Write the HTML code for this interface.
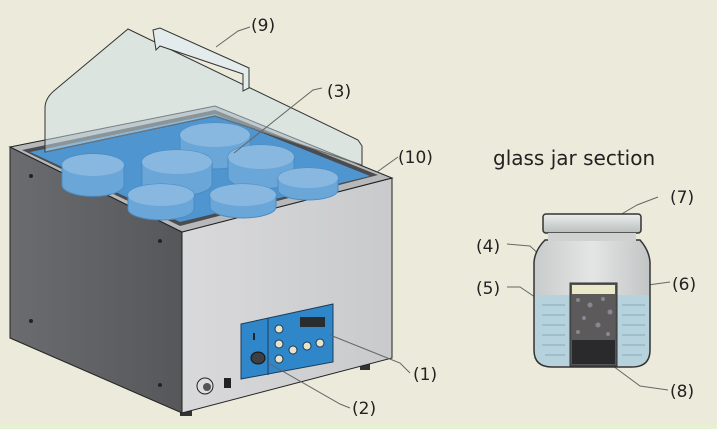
<!DOCTYPE html>
<html><head><meta charset="utf-8"><style>
html,body{margin:0;padding:0;background:#ecebdb;}
svg{display:block}
text{font-family:"DejaVu Sans","Liberation Sans",sans-serif;fill:#222}
</style></head><body>
<svg width="717" height="429" viewBox="0 0 717 429" xmlns="http://www.w3.org/2000/svg">
<defs>
<linearGradient id="rf" x1="0" y1="0" x2="1" y2="0"><stop offset="0" stop-color="#d9d9db"/><stop offset="1" stop-color="#c9cacc"/></linearGradient>
<linearGradient id="lf" x1="0" y1="0" x2="1" y2="0"><stop offset="0" stop-color="#6a6c6f"/><stop offset="1" stop-color="#55575a"/></linearGradient>
<linearGradient id="cap" x1="0" y1="0" x2="0" y2="1"><stop offset="0" stop-color="#eceeed"/><stop offset="1" stop-color="#b9bdbd"/></linearGradient>
<linearGradient id="jar" x1="0" y1="0" x2="1" y2="0"><stop offset="0" stop-color="#c8cbcb"/><stop offset=".5" stop-color="#e4e6e5"/><stop offset="1" stop-color="#c2c5c5"/></linearGradient>
</defs>
<rect width="717" height="429" fill="#ecebdb"/>
<rect y="424" width="717" height="5" fill="#e6f0d2"/>
<rect x="30" y="336" width="8" height="5" fill="#333"/>
<rect x="180" y="410" width="12" height="6" fill="#333"/>
<rect x="360" y="364" width="10" height="6" fill="#333"/>
<polygon points="10,147 182,232 182,413 10,338" fill="url(#lf)" stroke="#222" stroke-width="1"/>
<polygon points="182,232 392,178 392,358 182,413" fill="url(#rf)" stroke="#222" stroke-width="1"/>
<polygon points="10,147 215,106 392,178 182,232" fill="#b7b8ba" stroke="#222"/>
<polygon points="22,150 215,110 378,175 180,226" fill="#4a4c4f"/>
<polygon points="30,152 215,114 370,176 180,222" fill="#4f95cf"/>
<g fill="#6aa6d8" stroke="#4a8cc4" stroke-width="1">
<path d="M180,135 a35,12 0 0 1 70,0 v22 a35,12 0 0 1 -70,0z"/>
<path d="M62,165 a30,11 0 0 1 62,0 v20 a30,11 0 0 1 -62,0z"/>
<path d="M142,162 a35,12 0 0 1 70,0 v22 a35,12 0 0 1 -70,0z"/>
<path d="M228,157 a33,12 0 0 1 66,0 v20 a33,12 0 0 1 -66,0z"/>
<path d="M278,178 a30,10 0 0 1 60,0 v12 a30,10 0 0 1 -60,0z"/>
<path d="M128,195 a33,11 0 0 1 66,0 v14 a33,11 0 0 1 -66,0z"/>
<path d="M210,195 a33,11 0 0 1 66,0 v12 a33,11 0 0 1 -66,0z"/>
</g>
<g fill="#88b8e0">
<ellipse cx="215" cy="135" rx="35" ry="12"/><ellipse cx="93" cy="165" rx="31" ry="11"/>
<ellipse cx="177" cy="162" rx="35" ry="12"/><ellipse cx="261" cy="157" rx="33" ry="12"/>
<ellipse cx="308" cy="178" rx="30" ry="10"/><ellipse cx="161" cy="195" rx="33" ry="11"/>
<ellipse cx="243" cy="195" rx="33" ry="11"/>
</g>
<path d="M45,152 L45,108 Q45,98 55,90 L128,29 L358,140 L362,146 L362,165 L215,116 Z" fill="#c9dde3" fill-opacity="0.5" stroke="#333" stroke-width="1"/>
<path d="M45,152 L215,116 L362,165" fill="none" stroke="#888" stroke-width="0.6"/>
<path d="M153,30 L160,28 L249,68 L249,88 L243,91 L243,74 L160,46 L156,50 Z" fill="#e4ebec" stroke="#333" stroke-width="1"/>
<g fill="#222"><circle cx="31" cy="176" r="2"/><circle cx="160" cy="241" r="2"/><circle cx="31" cy="321" r="2"/><circle cx="160" cy="385" r="2"/></g>
<polygon points="241,324 333,304 333,362 241,379" fill="#2f86c8" stroke="#1c3c57"/>
<line x1="268" y1="318" x2="268" y2="375" stroke="#1c3c57"/>
<rect x="300" y="317" width="25" height="10" fill="#2a2d30" transform="skew(0,-12) translate(0,64)"/>
<g fill="#e9e2c8" stroke="#1c3c57"><circle cx="279" cy="329" r="4"/><circle cx="279" cy="344" r="4"/><circle cx="279" cy="359" r="4"/><circle cx="293" cy="350" r="4"/><circle cx="307" cy="346" r="4"/><circle cx="320" cy="343" r="4"/></g>
<rect x="253" y="333" width="2" height="7" fill="#222"/>
<ellipse cx="258" cy="358" rx="7" ry="6" fill="#3d3f42" stroke="#111"/>
<circle cx="205" cy="386" r="8" fill="#ddd" stroke="#222"/><circle cx="207" cy="387" r="4" fill="#555"/>
<rect x="224" y="378" width="7" height="10" fill="#222"/>
<g stroke="#666" stroke-width="1" fill="none">
<polyline points="216,47 238,31 250,27"/>
<polyline points="234,153 313,90 322,88"/>
<polyline points="377,172 398,157"/>
<polyline points="330,335 400,363 410,373"/>
<polyline points="270,364 340,404 350,408"/>
<polyline points="608,222 637,205 658,197"/>
<polyline points="507,244 530,246 570,283"/>
<polyline points="507,287 520,287 572,322"/>
<polyline points="633,297 648,285 670,282"/>
<polyline points="613,366 640,386 668,390"/>
</g>
<g font-size="17">
<text x="251" y="31">(9)</text><text x="327" y="97">(3)</text><text x="398" y="163">(10)</text>
<text x="413" y="380">(1)</text><text x="352" y="414">(2)</text>
<text x="670" y="203">(7)</text><text x="476" y="252">(4)</text><text x="476" y="294">(5)</text>
<text x="672" y="290">(6)</text><text x="670" y="397">(8)</text>
</g>
<text x="493" y="165" font-size="20">glass jar section</text>
<path d="M545,240 Q535,250 534,262 L534,350 Q534,367 552,367 L632,367 Q650,367 650,350 L650,262 Q649,250 640,240 Z" fill="url(#jar)" stroke="#333" stroke-width="1.5"/>
<path d="M535,295 L649,295 L649,350 Q649,366 632,366 L552,366 Q535,366 535,350 Z" fill="#b6d2dc"/>
<g stroke="#8fb3c3" stroke-width="1.2">
<line x1="542" y1="305" x2="565" y2="305"/><line x1="622" y1="305" x2="645" y2="305"/>
<line x1="542" y1="315" x2="565" y2="315"/><line x1="622" y1="315" x2="645" y2="315"/>
<line x1="542" y1="325" x2="565" y2="325"/><line x1="622" y1="325" x2="645" y2="325"/>
<line x1="542" y1="335" x2="565" y2="335"/><line x1="622" y1="335" x2="645" y2="335"/>
<line x1="542" y1="345" x2="565" y2="345"/><line x1="622" y1="345" x2="645" y2="345"/>
<line x1="545" y1="355" x2="565" y2="355"/><line x1="622" y1="355" x2="642" y2="355"/>
</g>
<rect x="543" y="214" width="98" height="19" rx="3" fill="url(#cap)" stroke="#333" stroke-width="1.5"/>
<rect x="548" y="233" width="88" height="8" fill="#cfd2d1"/>
<rect x="570" y="283" width="47" height="83" fill="#555" stroke="#333"/>
<rect x="572" y="285" width="43" height="9" fill="#e9e8c9"/>
<rect x="572" y="294" width="43" height="46" fill="#5d5a5c"/>
<g fill="#8a8690"><circle cx="578" cy="300" r="2"/><circle cx="590" cy="305" r="2.5"/><circle cx="603" cy="299" r="2"/><circle cx="610" cy="312" r="2.5"/><circle cx="584" cy="318" r="2"/><circle cx="598" cy="325" r="2.5"/><circle cx="578" cy="332" r="2"/><circle cx="608" cy="334" r="2"/></g>
<rect x="572" y="340" width="43" height="24" fill="#2a2a2c"/>
</svg>
</body></html>
